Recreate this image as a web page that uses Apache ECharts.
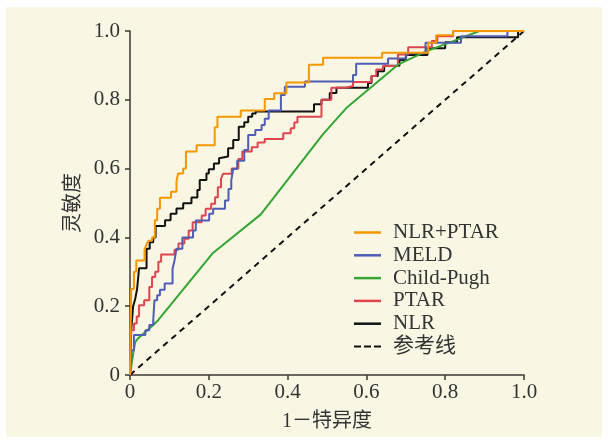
<!DOCTYPE html>
<html>
<head>
<meta charset="utf-8">
<script src="https://cdn.jsdelivr.net/npm/echarts@6/dist/echarts.min.js"></script>
<style>
  html, body { margin: 0; padding: 0; background: #fff; }
  #chart { width: 608px; height: 442px; }
</style>
</head>
<body>
<div id="chart"></div>
<script>
// tick labels
var tickLabels = ["0", "0.2", "0.4", "0.6", "0.8", "1.0"];

// NLR+PTAR (step points: top of each rise)
var nlrPtarFpr = [0, 0.003, 0.01, 0.016, 0.037, 0.042, 0.047, 0.056, 0.063, 0.069, 0.076, 0.104, 0.118, 0.122, 0.135, 0.142, 0.169, 0.215, 0.222, 0.281, 0.342, 0.366, 0.397, 0.454, 0.49, 0.64, 0.757, 0.777, 0.82, 1];
var nlrPtarTpr = [0, 0.25, 0.30, 0.333, 0.365, 0.38, 0.39, 0.40, 0.45, 0.483, 0.515, 0.533, 0.562, 0.586, 0.60, 0.65, 0.668, 0.72, 0.751, 0.769, 0.802, 0.819, 0.85, 0.902, 0.922, 0.937, 0.966, 0.988, 1.0, 1.0];

// MELD
var meldFpr = [0, 0.004, 0.01, 0.039, 0.049, 0.059, 0.062, 0.069, 0.076, 0.088, 0.108, 0.113, 0.118, 0.133, 0.16, 0.167, 0.201, 0.211, 0.241, 0.25, 0.257, 0.262, 0.272, 0.29, 0.3, 0.318, 0.334, 0.342, 0.352, 0.383, 0.393, 0.444, 0.566, 0.574, 0.655, 0.701, 0.75, 0.84, 0.958, 1];
var meldTpr = [0, 0.072, 0.116, 0.13, 0.145, 0.16, 0.217, 0.232, 0.248, 0.266, 0.309, 0.333, 0.367, 0.40, 0.42, 0.449, 0.469, 0.483, 0.507, 0.541, 0.565, 0.599, 0.623, 0.654, 0.698, 0.712, 0.727, 0.745, 0.769, 0.814, 0.838, 0.853, 0.872, 0.905, 0.92, 0.935, 0.966, 0.985, 1.0, 1.0];

// Child-Pugh (polyline)
var childFpr = [0, 0.005, 0.013, 0.02, 0.059, 0.072, 0.209, 0.332, 0.49, 0.549, 0.68, 0.75, 0.837, 0.887, 1];
var childTpr = [0, 0.04, 0.095, 0.106, 0.145, 0.16, 0.353, 0.467, 0.70, 0.776, 0.902, 0.94, 0.978, 1.0, 1.0];

// PTAR
var ptarFpr = [0, 0.002, 0.01, 0.017, 0.023, 0.036, 0.049, 0.056, 0.064, 0.072, 0.079, 0.113, 0.123, 0.138, 0.149, 0.159, 0.182, 0.192, 0.206, 0.216, 0.223, 0.231, 0.236, 0.258, 0.275, 0.285, 0.309, 0.324, 0.342, 0.389, 0.408, 0.417, 0.425, 0.486, 0.511, 0.548, 0.566, 0.613, 0.625, 0.642, 0.68, 0.706, 0.766, 0.78, 0.82, 1];
var ptarTpr = [0, 0.13, 0.15, 0.17, 0.203, 0.217, 0.256, 0.285, 0.30, 0.329, 0.35, 0.364, 0.382, 0.396, 0.42, 0.444, 0.464, 0.483, 0.498, 0.517, 0.546, 0.57, 0.585, 0.60, 0.628, 0.65, 0.662, 0.676, 0.686, 0.703, 0.717, 0.734, 0.751, 0.80, 0.835, 0.84, 0.852, 0.869, 0.888, 0.898, 0.932, 0.953, 0.971, 0.985, 1.0, 1.0];

// NLR
var nlrFpr = [0, 0.003, 0.008, 0.013, 0.018, 0.023, 0.042, 0.05, 0.059, 0.065, 0.089, 0.103, 0.118, 0.135, 0.156, 0.171, 0.177, 0.194, 0.2, 0.213, 0.226, 0.231, 0.249, 0.262, 0.276, 0.29, 0.3, 0.31, 0.319, 0.467, 0.486, 0.507, 0.524, 0.604, 0.613, 0.629, 0.645, 0.684, 0.7, 0.755, 0.8, 0.83, 0.985, 1];
var nlrTpr = [0, 0.13, 0.20, 0.22, 0.25, 0.31, 0.367, 0.386, 0.40, 0.433, 0.45, 0.469, 0.484, 0.499, 0.516, 0.538, 0.567, 0.586, 0.598, 0.615, 0.63, 0.635, 0.659, 0.683, 0.722, 0.735, 0.751, 0.76, 0.766, 0.787, 0.80, 0.82, 0.835, 0.849, 0.869, 0.883, 0.899, 0.916, 0.93, 0.95, 0.967, 0.982, 1.0, 1.0];

// 参考线
var refFpr = [0, 1];
var refTpr = [0, 1];

function pairs(xs, ys) {
  return xs.map(function (x, i) { return [x, ys[i]]; });
}

var font = "'Liberation Serif', 'Noto Sans CJK SC', serif";
var axisColor = "#3c3833";
var dashIcon = "path://M0,0h7v2h-7zM10,0h7v2h-7zM20,0h7v2h-7z";

var myChart = echarts.init(document.getElementById("chart"));
var axisCommon = {
  type: "value",
  min: 0,
  max: 1,
  interval: 0.2,
  nameLocation: "middle",
  nameMoveOverlap: false,
  nameTextStyle: { fontFamily: font, fontSize: 20, color: "#333" },
  axisLine: { show: true, lineStyle: { color: axisColor, width: 1.5 } },
  axisTick: { show: true, length: 5, lineStyle: { color: axisColor, width: 1.5 } },
  axisLabel: {
    fontFamily: font,
    fontSize: 21,
    color: "#333",
    formatter: function (v, i) { return tickLabels[i]; },
  },
  splitLine: { show: false },
};

myChart.setOption({
  animation: false,
  graphic: [
    {
      type: "rect",
      z: -10,
      silent: true,
      shape: { x: 6, y: 7, width: 596, height: 430 },
      style: { fill: "#f9f7e4" },
    },
  ],
  grid: { left: 130, right: 84, top: 31, bottom: 67 },
  xAxis: Object.assign({}, axisCommon, {
    name: "1－特异度",
    nameGap: 37,
    axisLabel: Object.assign({}, axisCommon.axisLabel, { margin: 7 }),
  }),
  yAxis: Object.assign({}, axisCommon, {
    name: "灵敏度",
    nameGap: 46,
    axisLabel: Object.assign({}, axisCommon.axisLabel, { margin: 10 }),
  }),
  legend: {
    orient: "vertical",
    left: 354,
    top: 222,
    padding: 0,
    itemWidth: 27,
    itemHeight: 2.5,
    itemGap: 1.8,
    textStyle: { fontFamily: font, fontSize: 21, color: "#333", padding: [0, 0, 0, 7] },
    data: [
      { name: "NLR+PTAR", icon: "rect" },
      { name: "MELD", icon: "rect" },
      { name: "Child-Pugh", icon: "rect" },
      { name: "PTAR", icon: "rect" },
      { name: "NLR", icon: "rect" },
      { name: "参考线", icon: dashIcon },
    ],
  },
  series: [
    {
      name: "参考线",
      type: "line",
      symbol: "none",
      data: pairs(refFpr, refTpr),
      lineStyle: { color: "#111", width: 2, type: [6, 5] },
      itemStyle: { color: "#111" },
    },
    {
      name: "NLR",
      type: "line",
      symbol: "none",
      step: "end",
      data: pairs(nlrFpr, nlrTpr),
      lineStyle: { color: "#111", width: 2 },
      itemStyle: { color: "#111" },
    },
    {
      name: "PTAR",
      type: "line",
      symbol: "none",
      step: "end",
      data: pairs(ptarFpr, ptarTpr),
      lineStyle: { color: "#e0444f", width: 2 },
      itemStyle: { color: "#e0444f" },
    },
    {
      name: "Child-Pugh",
      type: "line",
      symbol: "none",
      data: pairs(childFpr, childTpr),
      lineStyle: { color: "#35a534", width: 2 },
      itemStyle: { color: "#35a534" },
    },
    {
      name: "MELD",
      type: "line",
      symbol: "none",
      step: "end",
      data: pairs(meldFpr, meldTpr),
      lineStyle: { color: "#4f5db5", width: 2 },
      itemStyle: { color: "#4f5db5" },
    },
    {
      name: "NLR+PTAR",
      type: "line",
      symbol: "none",
      step: "end",
      data: pairs(nlrPtarFpr, nlrPtarTpr),
      lineStyle: { color: "#f39800", width: 2 },
      itemStyle: { color: "#f39800" },
    },
  ],
});
window.addEventListener("resize", () => {
  myChart.resize();
});
</script>
</body>
</html>
